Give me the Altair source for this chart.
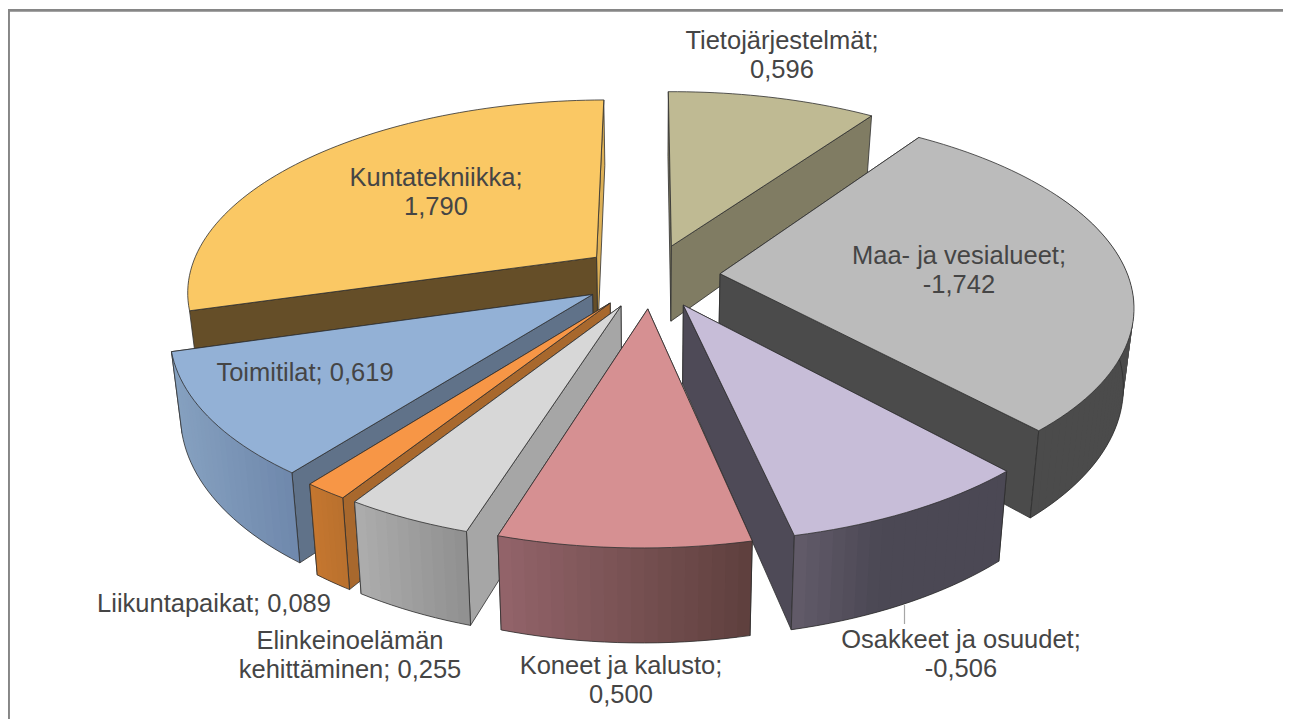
import math
import altair as alt

# --- data ---------------------------------------------------------------
names = ["Tietojärjestelmät", "Maa- ja vesialueet", "Osakkeet ja osuudet", "Koneet ja kalusto",
         "Elinkeinoelämän\nkehittäminen", "Liikuntapaikat", "Toimitilat", "Kuntatekniikka"]
values = [0.596, -1.742, -0.506, 0.500, 0.255, 0.089, 0.619, 1.790]
label_breaks = ["\n", "\n", "\n", "\n", " ", " ", " ", "\n"]
label_x = [782, 959, 961, 621, 350, 214, 305, 436]
label_y = [41, 256, 640, 666, 641, 604, 373, 178]

top_colors = ["#BFBA93", "#BBBBBB", "#C7BDD8", "#D69092", "#D7D7D7", "#F79646", "#93B1D6", "#FAC864"]
start_cut_colors = ["#807C63", "#4B4B4B", "#4E4A57", "#5E3F3D", "#A6A6A6", "#A8682D", "#607289", "#654E28"]
end_cut_colors = ["#807C63", "#4B4B4B", "#4E4A57", "#5E3F3D", "#A6A6A6", "#A8682D", "#607289", "#DDB056"]
wall_left = ["#807C63", "#4B4B4B", "#635C6A", "#93646A", "#ADADAD", "#C5772F", "#86A1C0", "#654E28"]
wall_right = ["#807C63", "#4B4B4B", "#4B4854", "#5E3F3D", "#8F8F8F", "#B9702E", "#6F88AC", "#654E28"]
wall_span = [1, 1, 0.4, 1, 1, 1, 1, 1]
draw_order = [0, 7, 1, 2, 6, 5, 4, 3]

# --- 3D pie model --------------------------------------------------------
CX, CY = 651.0, 276.0      # pie centre in picture pixels
A, B = 408.0, 188.4        # plane scale
P = 0.162                  # perspective strength
EXPLODE = 0.17
HEIGHT = 77.0
CONVERGE = 0.022
SHEAR = -0.021
START = -0.6


def project(u, v):
    den = 1 - P * v
    y = B * v / den
    return CX + A * u / den + SHEAR * y, CY + y, den


def top_point(theta, mid):
    t, m = math.radians(theta), math.radians(mid)
    return project(EXPLODE * math.sin(m) + math.sin(t), -(EXPLODE * math.cos(m) + math.cos(t)))


def apex_point(mid):
    m = math.radians(mid)
    return project(EXPLODE * math.sin(m), -EXPLODE * math.cos(m))


def drop(p):
    x, y, den = p
    return [x - CONVERGE * (x - CX), y + HEIGHT / den]


def xy(p):
    return [p[0], p[1]]


def mix(c1, c2, f):
    a = [int(c1[i:i + 2], 16) for i in (1, 3, 5)]
    b = [int(c2[i:i + 2], 16) for i in (1, 3, 5)]
    return "#" + "".join(f"{round(x + (y - x) * f):02X}" for x, y in zip(a, b))


EDGE = "#2F2F2F"
features = []


def add(kind, coords, fill, stroke, sw):
    geom = {"type": "Polygon", "coordinates": [coords + [coords[0]]]} if kind == "poly" else \
           {"type": "LineString", "coordinates": coords}
    features.append({"type": "Feature", "geometry": geom,
                     "properties": {"fill": fill, "stroke": stroke, "sw": sw}})


total = sum(abs(v) for v in values)
angles = []
cursor = START
for v in values:
    span = abs(v) / total * 360
    angles.append((cursor, cursor + span))
    cursor += span

# picture frame
add("line", [[8.6, 725], [8.6, 10.3], [1300, 10.3]], "transparent", "#868686", 2.7)
# leader line of "Osakkeet ja osuudet"
add("line", [[904.5, 605], [904.5, 624]], "transparent", "#A6A6A6", 1.2)

for i in draw_order:
    a0, a1 = angles[i]
    mid = (a0 + a1) / 2
    apex = apex_point(mid)
    n = max(6, int((a1 - a0) / 1.5))
    arc = [top_point(a0 + (a1 - a0) * k / n, mid) for k in range(n + 1)]
    # radial cut faces: the hidden one first, the visible one over it
    cuts = [(arc[0], start_cut_colors[i]), (arc[-1], end_cut_colors[i])]
    if mid > 180:
        cuts.reverse()
    for p, col in cuts:
        add("poly", [xy(apex), xy(p), drop(p), drop(apex)], col, EDGE, 0.8)
    # outer wall: gradient strips, only the part facing the viewer
    front = [k for k in range(n + 1)
             if math.cos(math.radians(a0 + (a1 - a0) * k / n)) < 0.45]
    if len(front) > 1 and math.cos(math.radians(mid)) < 0.3:
        xs = [arc[k][0] for k in front]
        lo, hi = min(xs), max(xs)
        for j, k in enumerate(front[:-1]):
            f = ((arc[k][0] + arc[k + 1][0]) / 2 - lo) / max(hi - lo, 1)
            col = mix(wall_left[i], wall_right[i], min(f / wall_span[i], 1))
            nxt = front[min(j + 2, len(front) - 1)]   # strips overlap, so no seams show
            add("poly", [xy(arc[k]), xy(arc[nxt]), drop(arc[nxt]), drop(arc[k])], col, "transparent", 0)
        outline = [drop(arc[k]) for k in front]
        if front[0] == 0:
            outline = [xy(arc[0])] + outline
        if front[-1] == n:
            outline = outline + [xy(arc[n])]
        add("line", outline, "transparent", EDGE, 0.8)
    # top face
    add("poly", [xy(apex)] + [xy(p) for p in arc], top_colors[i], EDGE, 0.8)

geo = alt.InlineData(values={"type": "FeatureCollection", "features": features},
                     format=alt.DataFormat(property="features", type="json"))

shapes = alt.Chart(geo).mark_geoshape().encode(
    fill=alt.Fill("properties.fill:N", scale=None),
    stroke=alt.Stroke("properties.stroke:N", scale=None),
    strokeWidth=alt.StrokeWidth("properties.sw:Q", scale=None),
)

label_rows = []
for nm, val, br, lx, ly in zip(names, values, label_breaks, label_x, label_y):
    label_rows.append({"label": f"{nm};{br}{val:.3f}".replace(".", ","), "lon": lx, "lat": ly})

labels = alt.Chart(alt.Data(values=label_rows)).mark_text(
    font="Liberation Sans", fontSize=25.5, color="#454545", align="center", baseline="middle",
    lineBreak="\n", lineHeight=29,
).encode(longitude="lon:Q", latitude="lat:Q", text="label:N")

chart = alt.layer(shapes, labels).properties(
    width=1275, height=711, padding=0,
    autosize=alt.AutoSizeParams(type="none"),
    projection=alt.Projection(type="identity", scale=1, translate=[-8, -8]),
).configure_view(stroke=None)

chart.save("out.html", embed_options={"renderer": "svg", "actions": False})
